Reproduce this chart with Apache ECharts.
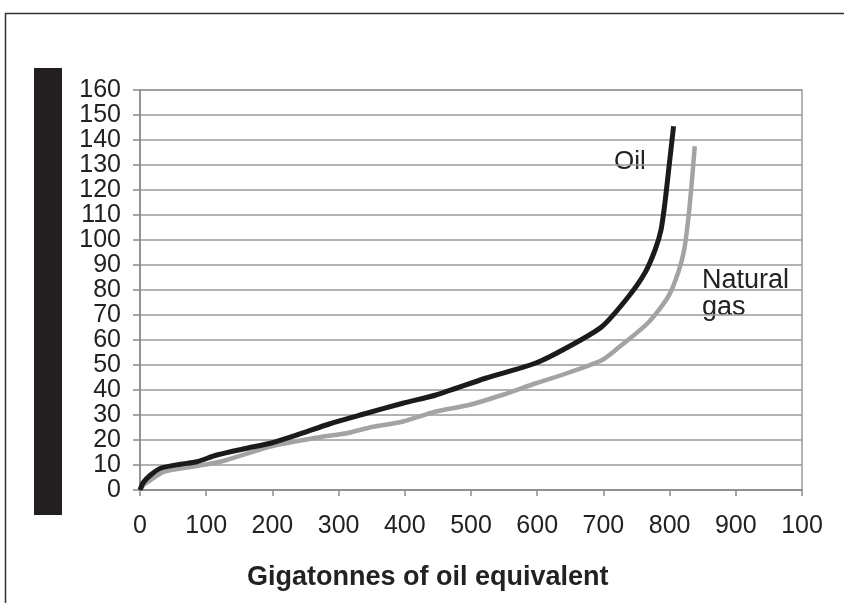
<!DOCTYPE html>
<html>
<head>
<meta charset="utf-8">
<script src="https://cdn.jsdelivr.net/npm/echarts@6/dist/echarts.min.js"></script>
<style>
  html, body { margin: 0; padding: 0; background: #fff; }
  #chart { width: 844px; height: 603px; }
</style>
</head>
<body>
<div id="chart"></div>
<script>
// values: [gigatonnes, cost]
var oilData = [
  [0, 0], [5, 3], [16, 6], [31, 8.7], [61, 10.3], [86, 11.3], [116, 14],
  [161, 16.7], [197, 18.7], [237, 22], [287, 26.5], [337, 30.3], [397, 34.7],
  [447, 38], [522, 44.7], [598, 50.8], [648, 57.4], [698, 65.4], [738, 77.4],
  [763, 87], [778, 96], [787, 104], [793, 115], [799, 129], [806, 145.5]
];
var gasData = [
  [0, 0], [5, 2], [16, 4], [36, 7.3], [86, 9.6], [121, 11.3], [197, 17.4],
  [247, 20], [277, 21.4], [312, 22.7], [347, 25], [397, 27.4], [447, 31.4],
  [497, 34], [547, 38], [598, 42.7], [648, 47], [698, 52], [723, 57],
  [768, 67], [798, 77.4], [813, 87], [822, 96], [828, 108], [833, 121.5], [838, 137.5]
];
var xTitle = "Gigatonnes of oil equivalent";

var fontFam = "Liberation Sans, Arial, sans-serif";
var myChart = echarts.init(document.getElementById("chart"));
var option = {
  animation: false,
  backgroundColor: "#fff",
  grid: {
    left: 140, right: 42, top: 90, bottom: 113,
    show: true, borderColor: "#9a9a9a", borderWidth: 1.5
  },
  xAxis: {
    type: "value",
    min: 0, max: 1000, interval: 100,
    axisLine: { show: true, lineStyle: { color: "#8a8a8a", width: 1.5 } },
    axisTick: { show: true, length: 6, lineStyle: { color: "#8a8a8a", width: 1.5 } },
    splitLine: { show: false },
    axisLabel: {
      margin: 24, fontSize: 25, color: "#222", fontFamily: fontFam,
      formatter: function (v) { return v === 1000 ? "100" : String(v); }
    }
  },
  yAxis: {
    type: "value",
    min: 0, max: 160, interval: 10,
    axisLine: { show: true, lineStyle: { color: "#8a8a8a", width: 1.5 } },
    axisTick: { show: true, length: 7, lineStyle: { color: "#8a8a8a", width: 1.5 } },
    splitLine: { show: true, lineStyle: { color: "#9a9a9a", width: 1.5 } },
    axisLabel: { margin: 19, fontSize: 25, color: "#222", fontFamily: fontFam }
  },
  series: [
    {
      name: "Natural gas",
      type: "line",
      data: gasData,
      smooth: 0.25,
      symbol: "none",
      lineStyle: { color: "#a3a3a3", width: 4.5 }
    },
    {
      name: "Oil",
      type: "line",
      data: oilData,
      smooth: 0.25,
      symbol: "none",
      lineStyle: { color: "#1c1a1b", width: 5 }
    }
  ],
  graphic: [
    { type: "rect", left: 3, top: 11, shape: { width: 900, height: 700 },
      style: { fill: "none", stroke: "#333", lineWidth: 1.5 }, z: 0 },
    { type: "rect", left: 34, top: 68, shape: { width: 28, height: 447 },
      style: { fill: "#231f20" } },
    { type: "text", left: 614, top: 149,
      style: { text: "Oil", fontSize: 26, fill: "#222", fontFamily: fontFam } },
    { type: "text", left: 702, top: 267,
      style: { text: "Natural\ngas", fontSize: 27, lineHeight: 27, fill: "#222", fontFamily: fontFam } },
    { type: "text", left: 247, top: 564,
      style: { text: xTitle, fontSize: 27, fontWeight: "bold", fill: "#222", fontFamily: fontFam } }
  ]
};
myChart.setOption(option);
</script>
</body>
</html>
